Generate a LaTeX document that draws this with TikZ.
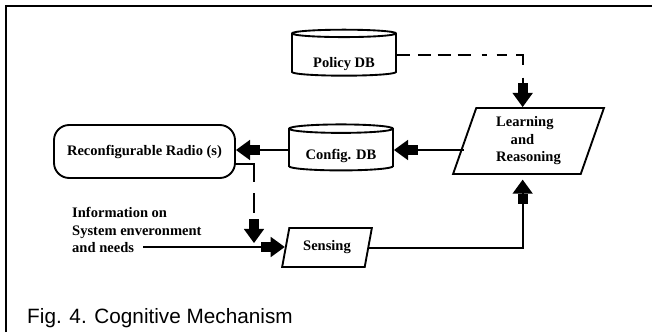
\documentclass[tikz,border=0pt]{standalone}
\usepackage{fontspec}
\setmainfont{Liberation Serif}
\newfontfamily\capfont{Liberation Sans}
\usetikzlibrary{shapes}
\usetikzlibrary{positioning}
\usetikzlibrary{arrows.meta}
\tikzset{
    dbnode/.style = {cylinder, shape border rotate=90, aspect=0.12, draw=black, line width=1.6pt, minimum width=3.12cm, minimum height=1.38cm, inner sep=0pt, text depth=2pt},
    radionode/.style = {rectangle, rounded corners=13pt, draw=black, line width=1.6pt, minimum width=5.43cm, minimum height=1.59cm},
    learnnode/.style = {trapezium, trapezium left angle=74, trapezium right angle=106, trapezium stretches=true, draw=black, line width=1.6pt, minimum width=4.53cm, minimum height=1.98cm, align=left},
    sensenode/.style = {trapezium, trapezium left angle=76, trapezium right angle=104, trapezium stretches=true, draw=black, line width=1.6pt, minimum width=2.7cm, minimum height=1.17cm},
    edgen/.style = {-{Rectangle[length=8.5pt,width=8.5pt]Triangle[length=12pt,width=17pt]}, line width=1.7pt},
    edgend/.style = {edgen, dash pattern=on 30.6pt off 9.4pt on 17pt off 10pt}, % radio feedback
    edgedd/.style = {edgen, dash pattern=on 11pt off 6.8pt on 11pt off 6pt on 11pt off 6pt on 11pt off 9.4pt on 4.3pt off 8.5pt on 8.5pt off 8.5pt on 13.6pt off 11pt} % policy
}
\begin{document}
\begin{tikzpicture}[
  x=0.03cm, y=-0.03cm,
  font=\fontsize{12.4}{14.9}\selectfont\bfseries]
  \useasboundingbox (0,0) rectangle (652,332);
  \draw[line width=1.6pt] (6,332) -- (6,6) -- (652,6);

  \node[dbnode, text height=24pt] (policy) at (344,55) {Policy DB};
  \node[dbnode, text height=19pt] (config) at (341,150) {Config. DB};
  \node[radionode] (radio) at (144.5,151.5) {Reconfigurable Radio (s)};
  \node[learnnode] (learn) at (528.5,141) {Learning\\\hspace*{1em}and\\Reasoning};
  \node[sensenode] (sense) at (327,247.5) {Sensing};
  \node[anchor=west, inner sep=0pt, align=left] (info) at (72,230) {Information on\\System enveronment\\and needs};
  \node[anchor=base west, inner sep=0pt, font=\capfont\fontsize{17.7}{20}\selectfont] (cap) at (27,323) {Fig. 4. Cognitive Mechanism};

  \coordinate (infoend) at (143,247);
  \coordinate (join) at (254,243);

  \draw[edgen] (learn.west |- config.east) -- (config.east);
  \draw[edgen] (config.west) -- (radio.east |- config.west);
  \draw[edgend] ([yshift=-11pt]radio.east) -| (join);
  \draw[edgen] (infoend) -- (infoend -| sense.west);
  \draw[edgen, shorten >=4pt] (sense.east) -| ([xshift=-5pt]learn.south);
  \draw[edgedd] (policy.east) -| ([xshift=-5pt]learn.north);

\end{tikzpicture}
\end{document}
